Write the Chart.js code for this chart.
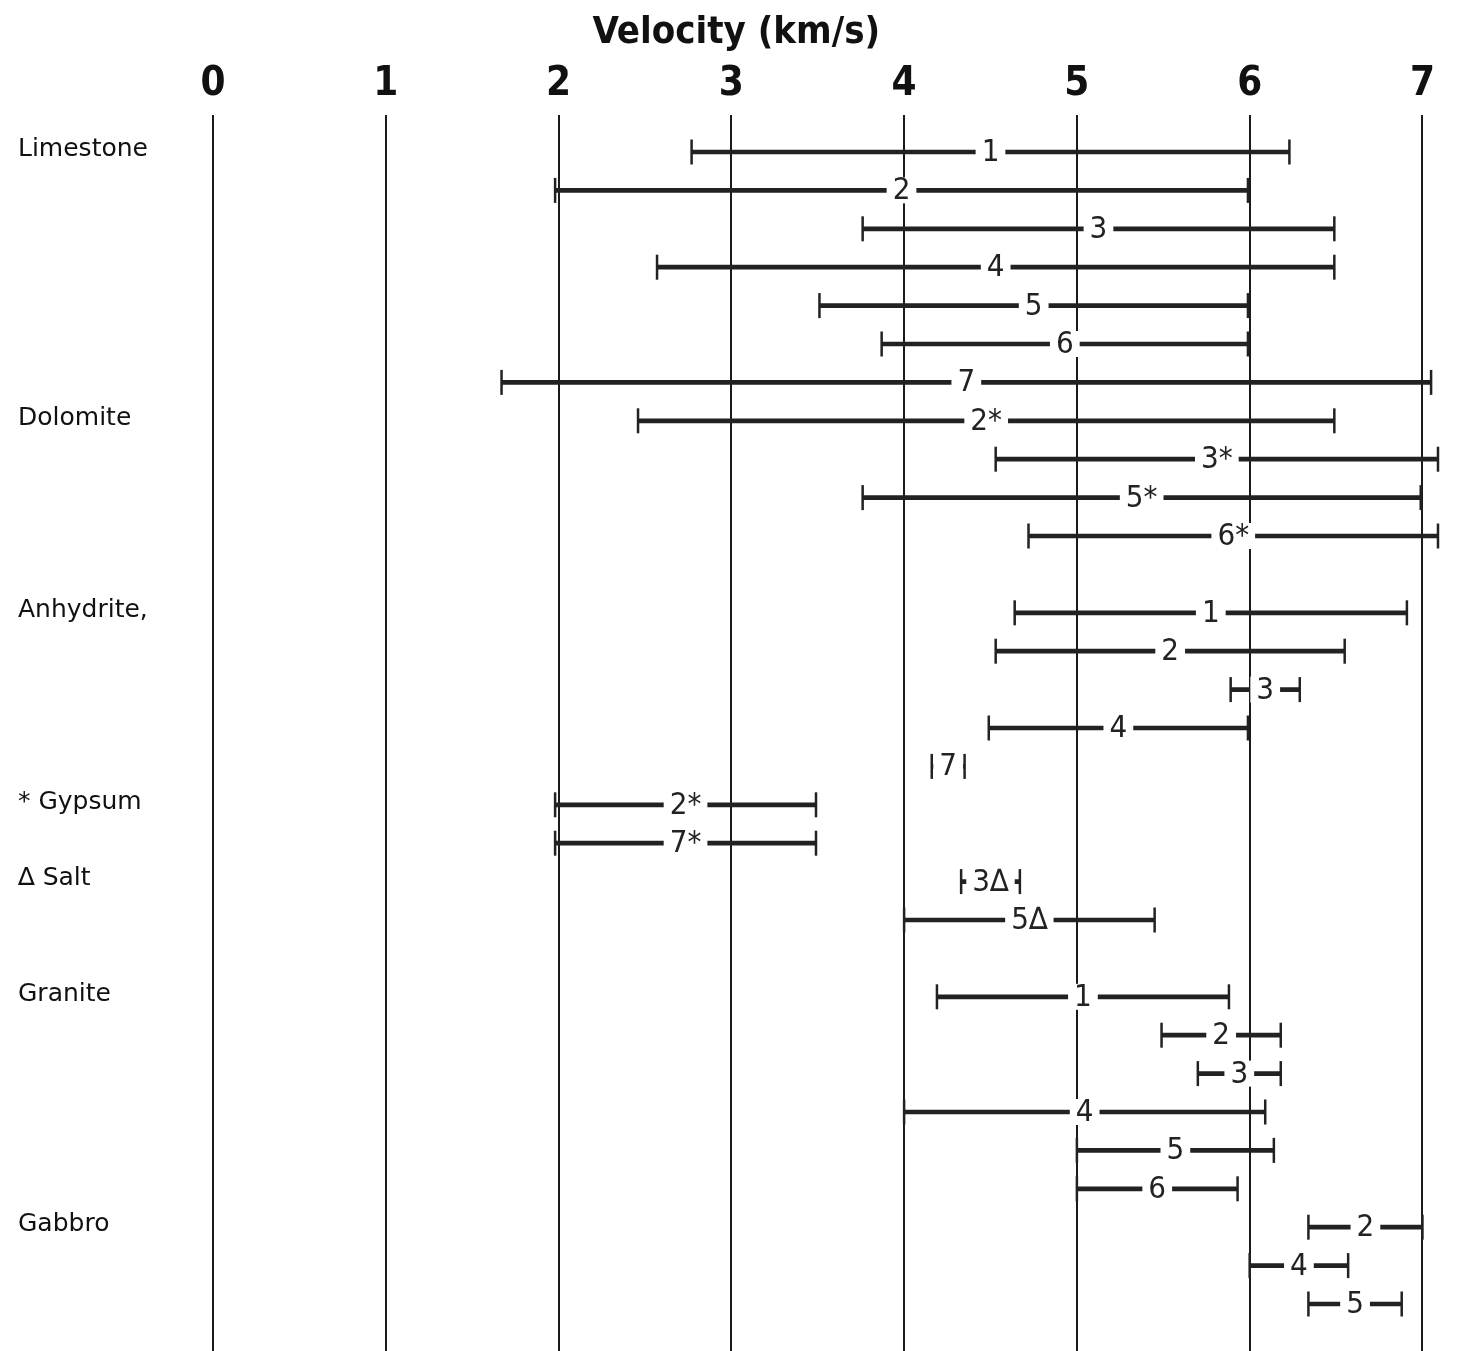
<!DOCTYPE html>
<html>
<head>
<meta charset="utf-8">
<script src="https://cdn.jsdelivr.net/npm/chart.js@4/dist/chart.umd.min.js"></script>
<style>
  html, body { margin: 0; padding: 0; background: #ffffff; }
  #wrap { width: 1459px; height: 1351px; }
  canvas { display: block; }
</style>
</head>
<body>
<div id="wrap"><canvas id="c" width="1459" height="1351"></canvas></div>
<script>
// ---- data ----
const axisTitle = 'Velocity (km/s)';
const xTicks = [0, 1, 2, 3, 4, 5, 6, 7];

const groupNames = ['Limestone', 'Dolomite', 'Anhydrite,', '* Gypsum', '\u2206 Salt', 'Granite', 'Gabbro'];
const groupRows  = [0, 7, 12, 17, 19, 22, 28];

const rowIndex = [0, 1, 2, 3, 4, 5, 6, 7, 8, 9, 10, 12, 13, 14, 15, 16, 17, 18, 19, 20, 22, 23, 24, 25, 26, 27, 28, 29, 30];
const rangeLabels = ['1', '2', '3', '4', '5', '6', '7', '2*', '3*', '5*', '6*', '1', '2', '3', '4', '7', '2*', '7*', '3\u2206', '5\u2206', '1', '2', '3', '4', '5', '6', '2', '4', '5'];
const lows  = [2.77, 1.98, 3.76, 2.57, 3.51, 3.87, 1.67, 2.46, 4.53, 3.76, 4.72, 4.64, 4.53, 5.89, 4.49, 4.16, 1.98, 1.98, 4.33, 4.00, 4.19, 5.49, 5.70, 4.00, 5.00, 5.00, 6.34, 6.00, 6.34];
const highs = [6.23, 5.99, 6.49, 6.49, 5.99, 5.99, 7.05, 6.49, 7.09, 6.99, 7.09, 6.91, 6.55, 6.29, 5.99, 4.35, 3.49, 3.49, 4.67, 5.45, 5.88, 6.18, 6.18, 6.09, 6.14, 5.93, 7.00, 6.57, 6.88];

// ---- build datasets from the arrays ----
const barData = rowIndex.map((r, i) => ({ x: [lows[i], highs[i]], y: r }));
const capData = [];
rowIndex.forEach((r, i) => { capData.push({ x: lows[i], y: r }); capData.push({ x: highs[i], y: r }); });

const INK = '#222222';
const NARROW = "'Liberation Sans Narrow', 'DejaVu Sans Condensed', 'Arial Narrow', sans-serif";

const labelPlugin = {
  id: 'rangeLabels',
  afterDatasetsDraw(chart) {
    const { ctx, scales: { x, y } } = chart;
    ctx.save();
    ctx.font = '31px ' + NARROW;
    ctx.textAlign = 'center';
    ctx.textBaseline = 'middle';
    rowIndex.forEach((r, i) => {
      const px = x.getPixelForValue((lows[i] + highs[i]) / 2);
      const py = y.getPixelForValue(r);
      const w = ctx.measureText(rangeLabels[i]).width;
      ctx.fillStyle = '#ffffff';
      ctx.fillRect(px - w / 2 - 6, py - 13, w + 12, 26);
      ctx.fillStyle = INK;
      ctx.fillText(rangeLabels[i], px, py + 1);
    });
    // axis title
    ctx.font = 'bold 38px ' + NARROW;
    ctx.fillStyle = '#111111';
    ctx.fillText(axisTitle, x.getPixelForValue(3.0) + 5, 33);
    ctx.restore();
  }
};

new Chart(document.getElementById('c'), {
  type: 'bar',
  data: {
    datasets: [
      {
        type: 'bar',
        indexAxis: 'y',
        data: barData,
        backgroundColor: INK,
        borderWidth: 0,
        barThickness: 4,
        xAxisID: 'x',
        yAxisID: 'y'
      },
      {
        type: 'scatter',
        data: capData,
        pointStyle: 'line',
        rotation: 90,
        radius: 12.5,
        borderWidth: 2.5,
        borderColor: INK,
        backgroundColor: INK,
        showLine: false,
        xAxisID: 'x',
        yAxisID: 'y'
      }
    ]
  },
  options: {
    responsive: false,
    devicePixelRatio: 1,
    animation: false,
    layout: { autoPadding: false, padding: { left: 18, right: 2, top: 6, bottom: 0 } },
    plugins: { legend: { display: false }, tooltip: { enabled: false }, title: { display: false } },
    scales: {
      x: {
        type: 'linear',
        position: 'top',
        offset: false,
        min: 0,
        max: 7.2,
        border: { display: false },
        grid: { color: '#1a1a1a', lineWidth: 2, drawTicks: false, offset: false },
        ticks: {
          padding: 6,
          color: '#111111',
          font: { family: NARROW, size: 40, weight: 'bold' },
          callback: (v) => String(v)
        },
        afterBuildTicks: (s) => { s.ticks = xTicks.map(v => ({ value: v })); },
        afterFit: (s) => { s.height = 109; }
      },
      y: {
        type: 'linear',
        reverse: true,
        offset: false,
        min: -0.9635,
        max: 31.224,
        border: { display: false },
        grid: { display: false, offset: false },
        ticks: {
          crossAlign: 'far',
          color: '#111111',
          font: { family: "'DejaVu Sans', sans-serif", size: 25 },
          callback: (v, i) => groupNames[i]
        },
        afterBuildTicks: (s) => { s.ticks = groupRows.map(v => ({ value: v - 0.07 })); },
        afterFit: (s) => { s.width = 195; s.paddingTop = 0; s.paddingBottom = 0; }
      }
    }
  },
  plugins: [labelPlugin]
});
</script>
</body>
</html>
